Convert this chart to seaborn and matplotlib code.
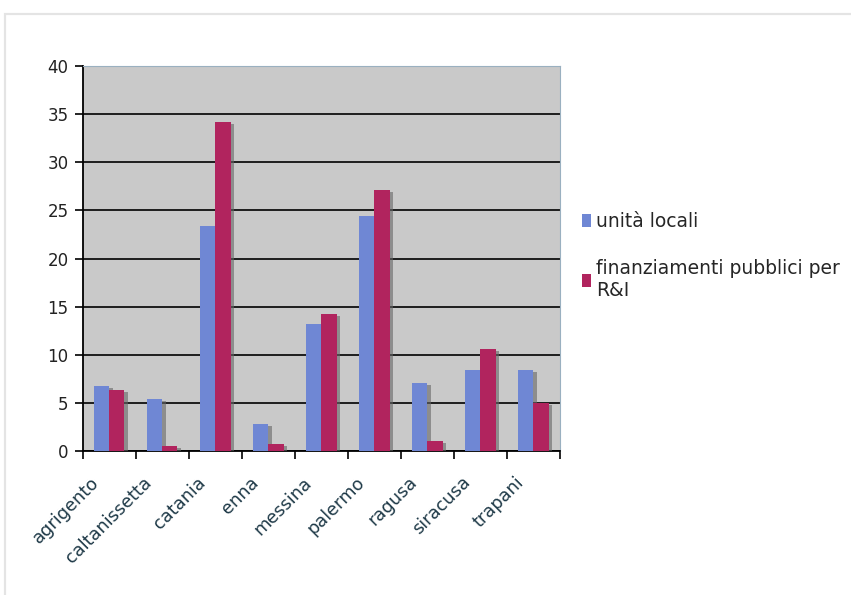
import numpy as np
import pandas as pd
import matplotlib
matplotlib.use("Agg")
import matplotlib.pyplot as plt
import matplotlib.patheffects as pe
import matplotlib.transforms as mtransforms
from matplotlib.patches import Patch, Rectangle
import seaborn as sns

provinces = ["agrigento", "caltanissetta", "catania", "enna", "messina",
             "palermo", "ragusa", "siracusa", "trapani"]
unita_locali = [6.8, 5.4, 23.4, 2.8, 13.2, 24.4, 7.1, 8.4, 8.4]
finanziamenti = [6.3, 0.5, 34.2, 0.7, 14.2, 27.1, 1.0, 10.6, 5.0]
series_names = ["unità locali", "finanziamenti pubblici per\nR&I"]
y_ticks = [0, 5, 10, 15, 20, 25, 30, 35, 40]

df = pd.DataFrame({
    "provincia": provinces * 2,
    "valore": unita_locali + finanziamenti,
    "serie": [series_names[0]] * len(provinces) + [series_names[1]] * len(provinces),
})

sns.set_theme(style="white")
plt.rcParams["font.family"] = ["DejaVu Sans"]

fig = plt.figure(figsize=(8.51, 5.95), dpi=100)

# faint frame around the chart area
fig.patches.append(Rectangle((5 / 851, -0.05), 1.1, 1 - 14 / 595 + 0.05,
                             transform=fig.transFigure, fill=False,
                             edgecolor="#e4e4e4", linewidth=1.6, zorder=0))

ax = fig.add_axes([82.5 / 851, 1 - 451 / 595, (560 - 82.5) / 851, (451 - 66) / 595])

ax.set_facecolor("#c9c9c9")
palette = ["#6f87d4", "#b1245e"]
sns.barplot(data=df, x="provincia", y="valore", hue="serie", palette=palette,
            width=0.58, saturation=1, ax=ax, legend=False, zorder=3)

for patch in ax.patches:
    patch.set_linewidth(0)
    patch.set_path_effects([
        pe.SimplePatchShadow(offset=(2.5, -1.5), shadow_rgbFace="#666666", alpha=0.6),
        pe.Normal(),
    ])

ax.set_ylim(0, 40)
ax.set_xlim(-0.5, len(provinces) - 0.5)
ax.set_yticks(y_ticks)
ax.set_yticklabels([str(t) for t in y_ticks], fontsize=12, color="#222222")
ax.yaxis.grid(True, color="black", linewidth=1.2, zorder=0)
ax.set_axisbelow(True)

ax.set_xticks(range(len(provinces)))
ax.set_xticklabels(provinces, rotation=45, ha="right", rotation_mode="anchor",
                   fontsize=12.8, color="#1f3a48")
ax.set_xticks(np.arange(-0.5, len(provinces), 1), minor=True)
ax.tick_params(axis="x", which="major", length=0, pad=14)
ax.tick_params(axis="x", which="minor", length=6, width=1.2, color="black", direction="out", bottom=True)
ax.tick_params(axis="y", length=6, width=1.2, color="black", direction="out", left=True, pad=4)

# nudge the slanted category labels so their ends sit left of each group centre
shift = mtransforms.ScaledTranslation(-19 / 100, -3 / 100, fig.dpi_scale_trans)
for lbl in ax.get_xticklabels():
    lbl.set_transform(lbl.get_transform() + shift)

ax.set_xlabel("")
ax.set_ylabel("")

for side in ["left", "bottom"]:
    ax.spines[side].set_color("black")
    ax.spines[side].set_linewidth(1.3)
for side in ["top", "right"]:
    ax.spines[side].set_color("#9ab0c0")
    ax.spines[side].set_linewidth(0.8)

handles = [Patch(facecolor=c, edgecolor="none") for c in palette]
ax.legend(handles, series_names, loc="upper left", bbox_to_anchor=(582 / 851, 1 - 212 / 595),
          bbox_transform=fig.transFigure, frameon=False, fontsize=13.5,
          handlelength=0.5, handleheight=0.75, handletextpad=0.25, labelspacing=1.5,
          borderaxespad=0, borderpad=0)

fig.savefig("out.png", dpi=100, facecolor="white")
